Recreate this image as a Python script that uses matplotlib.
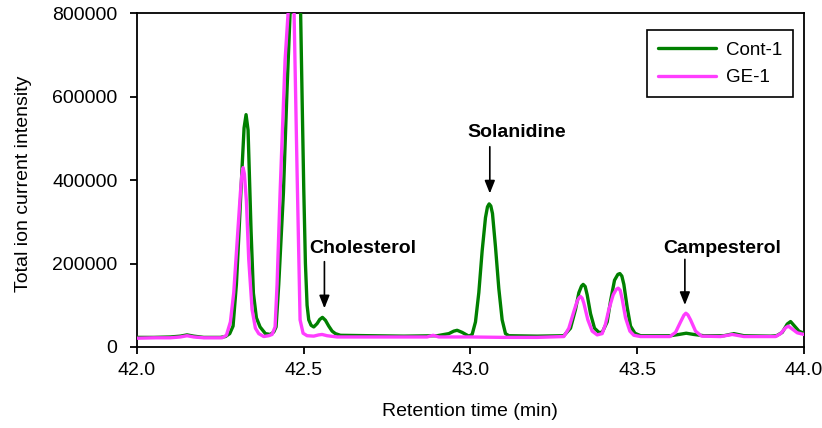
import matplotlib
matplotlib.use("Agg")
import matplotlib.pyplot as plt

plt.rcParams.update({"font.family": ["Liberation Sans", "DejaVu Sans"], "font.size": 14})

GREEN, PINK = "#008000", "#ff3dff"

# Cont-1 trace (retention time in min, total ion current)
cont_t = [42.000, 42.050, 42.100, 42.130, 42.150, 42.170, 42.200, 42.250, 42.265, 42.278,
          42.288, 42.298, 42.306, 42.315, 42.321, 42.327, 42.333, 42.342, 42.349, 42.358,
          42.369, 42.385, 42.400, 42.410, 42.417, 42.425, 42.439, 42.450, 42.459, 42.475,
          42.490, 42.495, 42.500, 42.505, 42.510, 42.515, 42.522, 42.530, 42.540, 42.548,
          42.556, 42.565, 42.575, 42.585, 42.595, 42.610, 42.700, 42.800, 42.900, 42.935,
          42.950, 42.960, 42.975, 42.995, 43.005, 43.015, 43.025, 43.035, 43.045, 43.051,
          43.056, 43.061, 43.066, 43.075, 43.085, 43.095, 43.105, 43.115, 43.200, 43.280,
          43.300, 43.315, 43.325, 43.333, 43.338, 43.344, 43.350, 43.360, 43.372, 43.385,
          43.395, 43.410, 43.420, 43.432, 43.442, 43.448, 43.454, 43.460, 43.470, 43.480,
          43.493, 43.510, 43.600, 43.625, 43.647, 43.670, 43.700, 43.760, 43.790, 43.820,
          43.900, 43.918, 43.935, 43.950, 43.960, 43.972, 43.985, 44.000]
cont_i = [23000, 23000, 24000, 26000, 29000, 26000, 23000, 23000, 25000, 32000,
          50000, 150000, 278000, 430000, 525000, 557000, 520000, 278000, 129000, 70000,
          48000, 32000, 30000, 36000, 48000, 150000, 369000, 620000, 800000, 1150000,
          830000, 600000, 380000, 200000, 100000, 65000, 52000, 48000, 56000, 66000,
          71000, 64000, 50000, 38000, 32000, 28000, 27000, 26000, 27000, 32000,
          38000, 40000, 35000, 26000, 30000, 60000, 130000, 230000, 310000, 336000,
          343000, 338000, 320000, 240000, 140000, 65000, 32000, 27000, 26000, 27000,
          45000, 90000, 130000, 146000, 150000, 145000, 125000, 80000, 45000, 35000,
          35000, 60000, 110000, 160000, 174000, 176000, 170000, 150000, 95000, 50000,
          33000, 27000, 27000, 30000, 33000, 30000, 27000, 27000, 32000, 27000,
          26000, 27000, 35000, 55000, 61000, 50000, 38000, 33000]

# GE-1 trace
ge_t = [42.000, 42.050, 42.100, 42.130, 42.150, 42.170, 42.200, 42.255, 42.268, 42.280,
        42.290, 42.300, 42.310, 42.314, 42.318, 42.322, 42.328, 42.335, 42.345, 42.355,
        42.365, 42.380, 42.395, 42.405, 42.414, 42.420, 42.429, 42.437, 42.444, 42.453,
        42.462, 42.471, 42.480, 42.489, 42.498, 42.510, 42.530, 42.545, 42.555, 42.570,
        42.600, 42.700, 42.800, 42.870, 42.888, 42.905, 43.000, 43.100, 43.200, 43.280,
        43.295, 43.310, 43.320, 43.326, 43.330, 43.335, 43.340, 43.352, 43.365, 43.380,
        43.395, 43.405, 43.415, 43.428, 43.437, 43.443, 43.449, 43.455, 43.465, 43.478,
        43.490, 43.510, 43.598, 43.615, 43.630, 43.640, 43.646, 43.652, 43.660, 43.675,
        43.693, 43.750, 43.785, 43.820, 43.915, 43.930, 43.945, 43.953, 43.965, 43.980,
        44.000]
ge_i = [21000, 22000, 22000, 24000, 27000, 24000, 22000, 22000, 28000, 60000,
        130000, 250000, 370000, 410000, 430000, 415000, 350000, 210000, 90000, 45000,
        32000, 25000, 27000, 30000, 48000, 150000, 369000, 540000, 688000, 800000,
        1000000, 800000, 420000, 65000, 33000, 27000, 26000, 29000, 30000, 27000,
        24000, 24000, 24000, 24000, 28000, 24000, 24000, 23000, 23000, 25000,
        45000, 85000, 110000, 118000, 121000, 117000, 105000, 65000, 38000, 29000,
        32000, 55000, 90000, 125000, 138000, 141000, 136000, 115000, 70000, 38000,
        28000, 25000, 25000, 35000, 60000, 76000, 81000, 77000, 65000, 38000,
        26000, 25000, 30000, 25000, 25000, 32000, 46000, 50000, 43000, 34000,
        30000]

x_ticks = [42.0, 42.5, 43.0, 43.5, 44.0]
y_ticks = [0, 200000, 400000, 600000, 800000]

# compound labels: name, text x, text baseline y, arrow x, arrow tail y, arrow tip y
labels = [("Cholesterol", 42.676, 225000, 42.562, 204500, 92700),
          ("Solanidine", 43.138, 504000, 43.058, 480000, 368000),
          ("Campesterol", 43.756, 225000, 43.643, 210000, 100700)]

fig = plt.figure(figsize=(8.22, 4.28), dpi=100)
ax = fig.add_axes([0.1667, 0.1893, 0.8113, 0.7797])

ax.plot(cont_t, cont_i, color=GREEN, lw=2.4, label="Cont-1", zorder=3,
        solid_joinstyle="round", solid_capstyle="round")
ax.plot(ge_t, ge_i, color=PINK, lw=2.4, label="GE-1", zorder=4,
        solid_joinstyle="round", solid_capstyle="round")

ax.set_xlim(42.0, 44.0)
ax.set_ylim(0, 800000)
ax.set_xticks(x_ticks)
ax.set_xticklabels([f"{v:.1f}" for v in x_ticks])
ax.set_yticks(y_ticks)
ax.set_yticklabels([str(v) for v in y_ticks])
ax.tick_params(direction="out", length=5, width=1.3, labelsize=14, colors="black")
ax.tick_params(axis="x", pad=6)
ax.tick_params(axis="y", pad=9)
for s in ax.spines.values():
    s.set_linewidth(1.3)
    s.set_color("black")

ax.set_xlabel("Retention time (min)", fontsize=14, va="center")
ax.xaxis.set_label_coords(0.4985, -0.1946)
ax.set_ylabel("Total ion current intensity", fontsize=14, va="center")
ax.yaxis.set_label_coords(-0.1700, 0.49)

for name, tx, ty, axx, y0, y1 in labels:
    ax.text(tx, ty, name, ha="center", va="baseline", fontsize=14, fontweight="bold")
    ax.annotate("", xy=(axx, y1), xytext=(axx, y0),
                arrowprops=dict(arrowstyle="-|>,head_length=0.55,head_width=0.22",
                                color="black", lw=1.2, shrinkA=0, shrinkB=0))

leg = ax.legend(loc="upper right", bbox_to_anchor=(0.984, 0.949), fontsize=13.5,
                fancybox=False, framealpha=1, edgecolor="black", handlelength=3.1,
                handletextpad=0.5, labelspacing=0.55, borderpad=0.6, borderaxespad=0)
leg.get_frame().set_linewidth(1.2)

fig.savefig("out.png", dpi=100, facecolor="white")
